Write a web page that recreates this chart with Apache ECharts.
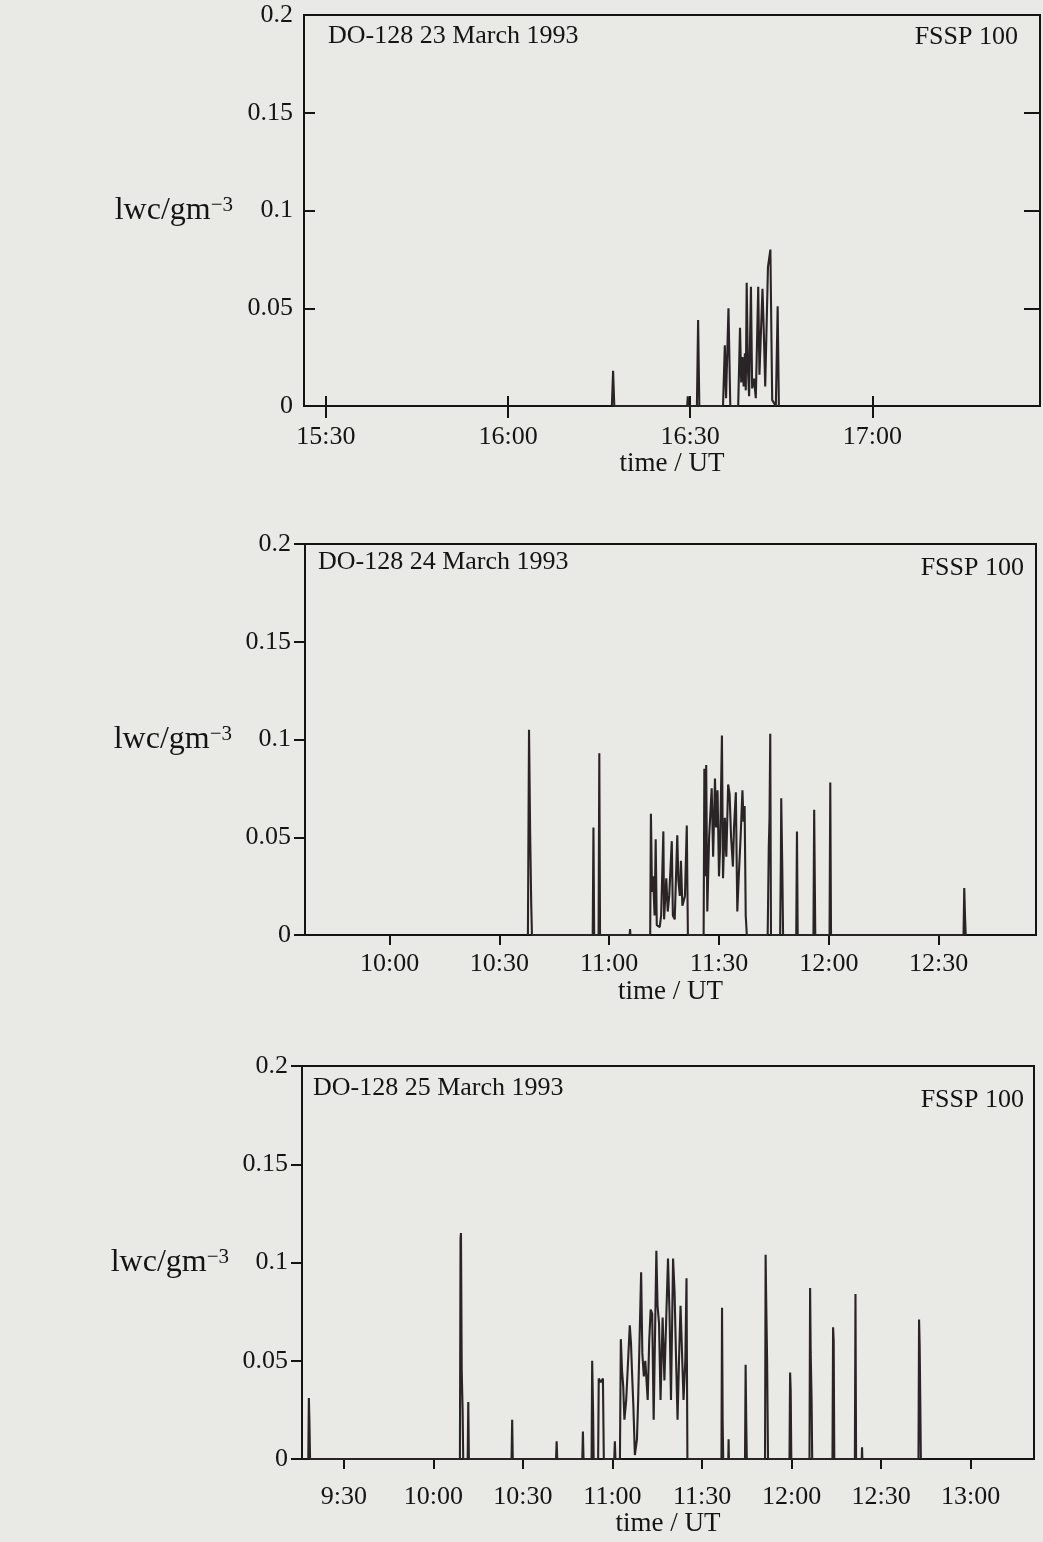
<!DOCTYPE html>
<html>
<head>
<meta charset="utf-8">
<script src="https://cdn.jsdelivr.net/npm/echarts@6/dist/echarts.min.js"></script>
<style>
html, body { margin: 0; padding: 0; background: #e9e9e6; }
#main { width: 1043px; height: 1542px; }
</style>
</head>
<body>
<div id="main"></div>
<script>
// time in minutes after 00:00 UT, lwc in g m^-3
// 23 March 1993
var t23 = [977.1, 977.3, 977.5,
    989.5, 989.6, 989.7,
    991.1, 991.3, 991.5,
    995.4, 995.7, 995.9, 996.3, 996.6,
    997.9, 998.2, 998.4, 998.6, 998.8, 999.0, 999.15, 999.3, 999.5, 999.7,
    1000.0, 1000.2, 1000.5, 1000.8, 1001.2, 1001.4, 1001.9, 1002.1, 1002.35,
    1002.8, 1003.2, 1003.5, 1004.1, 1004.4, 1004.6];
var v23 = [0, 0.018, 0,
    0, 0.005, 0,
    0, 0.044, 0,
    0, 0.031, 0.004, 0.050, 0,
    0, 0.040, 0.012, 0.025, 0.010, 0.027, 0.008, 0.063, 0.019, 0.005,
    0.061, 0.009, 0.014, 0.004, 0.061, 0.016, 0.060, 0.040, 0.010,
    0.071, 0.080, 0.003, 0, 0.051, 0];

// 24 March 1993
var t24 = [637.8, 638.1, 638.4, 638.7, 638.9,
    655.5, 655.7, 655.9,
    657.1, 657.3, 657.5,
    665.6, 665.7, 665.8,
    671.2, 671.4, 671.7, 672.0, 672.4, 672.7, 673.0, 673.8, 674.2, 674.8, 675.0,
    675.6, 676.0, 676.4, 677.1, 677.4, 677.9, 678.6, 678.9, 679.3, 679.6, 680.0,
    680.7, 681.2, 681.5,
    685.8, 686.0, 686.2, 686.5, 686.8, 687.3, 688.0, 688.4, 688.9, 689.2, 689.6,
    690.0, 690.3, 690.8, 691.1, 691.6, 692.0, 692.5, 692.9, 693.3, 693.8, 694.1,
    694.6, 695.0, 695.4, 695.9, 696.4, 696.7, 697.0, 697.3, 697.6,
    703.3, 703.6, 703.8, 704.0, 704.2,
    706.7, 706.9, 707.0, 707.3, 707.5,
    711.1, 711.3, 711.5,
    715.8, 716.0, 716.3,
    720.2, 720.4, 720.6,
    756.8, 757.0, 757.2, 757.4];
var v24 = [0, 0.105, 0.053, 0.016, 0,
    0, 0.055, 0,
    0, 0.093, 0,
    0, 0.003, 0,
    0, 0.062, 0.022, 0.030, 0.010, 0.049, 0.005, 0.004, 0.010, 0.053, 0.008,
    0.029, 0.012, 0.020, 0.048, 0.010, 0.008, 0.051, 0.028, 0.020, 0.038, 0.015,
    0.020, 0.056, 0,
    0, 0.085, 0.030, 0.087, 0.012, 0.050, 0.075, 0.040, 0.080, 0.055, 0.074,
    0.030, 0.045, 0.102, 0.029, 0.060, 0.040, 0.077, 0.072, 0.050, 0.035, 0.055,
    0.073, 0.012, 0.030, 0.050, 0.074, 0.058, 0.066, 0.010, 0,
    0, 0.045, 0.060, 0.103, 0,
    0, 0.038, 0.070, 0.033, 0,
    0, 0.053, 0,
    0, 0.064, 0,
    0, 0.078, 0,
    0, 0.024, 0.010, 0];

// 25 March 1993
var t25 = [558.1, 558.3, 558.5, 558.7,
    608.9, 609.1, 609.25, 609.5, 609.8, 610.0,
    611.5, 611.7, 611.9,
    626.2, 626.4, 626.6,
    641.1, 641.3, 641.5,
    649.9, 650.1, 650.3,
    653.0, 653.2, 653.5, 653.7,
    655.2, 655.4, 656.1, 656.8, 657.1,
    660.6, 660.8, 661.0,
    662.5, 662.8, 663.2, 663.6, 664.0, 664.6, 665.8, 666.2, 666.5, 667.0, 667.5,
    668.2, 668.6, 669.6, 670.0, 670.5, 671.0, 671.8, 672.3, 672.8, 673.3, 673.8,
    674.7, 675.1, 675.6, 676.1, 676.8, 677.4, 678.6, 679.1, 679.6, 680.3, 680.8,
    681.3, 681.8, 682.3, 682.8, 683.3, 683.8, 684.4, 684.8, 685.1,
    696.5, 696.7, 696.9, 697.1,
    698.8, 698.9, 699.0,
    704.4, 704.6, 704.8, 705.0,
    711.1, 711.3, 711.5, 711.8, 712.1,
    719.3, 719.5, 719.7, 719.9,
    726.0, 726.2, 726.4, 726.7, 726.9,
    733.7, 733.9, 734.1, 734.3,
    741.2, 741.4, 741.6,
    743.5, 743.6, 743.7,
    762.5, 762.7, 762.9, 763.1, 763.3];
var v25 = [0, 0.031, 0.018, 0,
    0, 0.112, 0.115, 0.045, 0.025, 0,
    0, 0.029, 0,
    0, 0.020, 0,
    0, 0.009, 0,
    0, 0.014, 0,
    0, 0.050, 0.024, 0,
    0, 0.041, 0.039, 0.041, 0,
    0, 0.009, 0,
    0, 0.061, 0.045, 0.037, 0.020, 0.030, 0.068, 0.059, 0.046, 0.027, 0.002,
    0.010, 0.030, 0.095, 0.054, 0.042, 0.050, 0.030, 0.060, 0.076, 0.074, 0.020,
    0.106, 0.078, 0.069, 0.030, 0.072, 0.040, 0.102, 0.075, 0.030, 0.102, 0.085,
    0.051, 0.020, 0.051, 0.078, 0.077, 0.030, 0.050, 0.092, 0,
    0, 0.077, 0.020, 0,
    0, 0.010, 0,
    0, 0.048, 0.020, 0,
    0, 0.104, 0.080, 0.050, 0,
    0, 0.044, 0.035, 0,
    0, 0.087, 0.054, 0.030, 0,
    0, 0.067, 0.060, 0,
    0, 0.084, 0,
    0, 0.006, 0,
    0, 0.071, 0.058, 0.030, 0];

var ticks23 = [930, 960, 990, 1020];
var ticks24 = [600, 630, 660, 690, 720, 750];
var ticks25 = [570, 600, 630, 660, 690, 720, 750, 780];
var titles = ['DO-128 23 March 1993', 'DO-128 24 March 1993', 'DO-128 25 March 1993'];

var font = 'Liberation Serif';
var ink = '#141414';
var trace = '#2a2426';

function hhmm(m) {
    var h = Math.floor(m / 60), mm = Math.round(m - h * 60);
    return h + ':' + (mm < 10 ? '0' : '') + mm;
}
function pairs(t, v) {
    var d = [];
    for (var i = 0; i < t.length; i++) d.push([t[i], v[i]]);
    return d;
}

var grids = [
    {left: 304, top: 15, width: 736, height: 391},
    {left: 305, top: 544, width: 731, height: 391},
    {left: 302, top: 1066, width: 732, height: 393}
];
var ranges = [[926.4, 1047.6], [576.9, 776.6], [556, 801.2]];
var tickSets = [ticks23, ticks24, ticks25];
var series = [pairs(t23, v23), pairs(t24, v24), pairs(t25, v25)];
var labelMargin = [18, 16, 25];
var nameGapX = [43, 43, 50];
var nameGapY = [71, 73, 73];

var option = {
    backgroundColor: '#e9e9e6',
    animation: false,
    title: [], grid: [], xAxis: [], yAxis: [], series: []
};

for (var i = 0; i < 3; i++) {
    var inside = (i === 0);
    var g = grids[i];
    option.grid.push({left: g.left, top: g.top, width: g.width, height: g.height,
        show: true, borderColor: ink, borderWidth: 2, backgroundColor: 'transparent'});
    option.xAxis.push({
        type: 'value', gridIndex: i, min: ranges[i][0], max: ranges[i][1],
        name: 'time / UT', nameLocation: 'middle', nameGap: nameGapX[i],
        nameTextStyle: {fontFamily: font, fontSize: 27, color: ink},
        axisLine: {show: false}, splitLine: {show: false},
        axisTick: {inside: inside, length: 10, lineStyle: {color: ink, width: 2}, customValues: tickSets[i]},
        axisLabel: {customValues: tickSets[i], formatter: hhmm, margin: labelMargin[i],
            fontFamily: font, fontSize: 26, color: ink}
    });
    option.yAxis.push({
        type: 'value', gridIndex: i, min: 0, max: 0.2, interval: 0.05,
        name: '{b|lwc/gm}{s|\u22123}', nameLocation: 'middle', nameRotate: 0, nameGap: nameGapY[i],
        nameTextStyle: {fontFamily: font, color: ink, rich: {
            b: {fontFamily: font, fontSize: 32, color: ink},
            s: {fontFamily: font, fontSize: 21, color: ink, verticalAlign: 'top'}
        }},
        axisLine: {show: false}, splitLine: {show: false},
        axisTick: {inside: inside, length: 11, lineStyle: {color: ink, width: 2}},
        axisLabel: {margin: inside ? 11 : 14, fontFamily: font, fontSize: 26, color: ink}
    });
    option.series.push({
        type: 'line', xAxisIndex: i, yAxisIndex: i, data: series[i],
        showSymbol: false, lineStyle: {color: trace, width: 2.1}
    });
    option.title.push({
        text: titles[i], left: [328, 318, 313][i], top: [23, 549, 1075][i], padding: 0,
        textStyle: {fontFamily: font, fontSize: 26, fontWeight: 'normal', color: ink}
    });
    option.title.push({
        text: 'FSSP 100', right: [25, 19, 19][i], top: [24, 555, 1087][i], padding: 0,
        textStyle: {fontFamily: font, fontSize: 26, fontWeight: 'normal', color: ink}
    });
}

// first panel also carries inward ticks on its top and right edges
option.xAxis.push({
    type: 'value', gridIndex: 0, position: 'top', min: ranges[0][0], max: ranges[0][1],
    axisLine: {show: false}, splitLine: {show: false}, axisLabel: {show: false},
    axisTick: {inside: true, length: 12, lineStyle: {color: ink, width: 2}, customValues: ticks23}
});
option.yAxis.push({
    type: 'value', gridIndex: 0, position: 'right', min: 0, max: 0.2, interval: 0.05,
    axisLine: {show: false}, splitLine: {show: false}, axisLabel: {show: false},
    axisTick: {inside: true, length: 16, lineStyle: {color: ink, width: 2}}
});

var chart = echarts.init(document.getElementById('main'));
chart.setOption(option);
</script>
</body>
</html>
